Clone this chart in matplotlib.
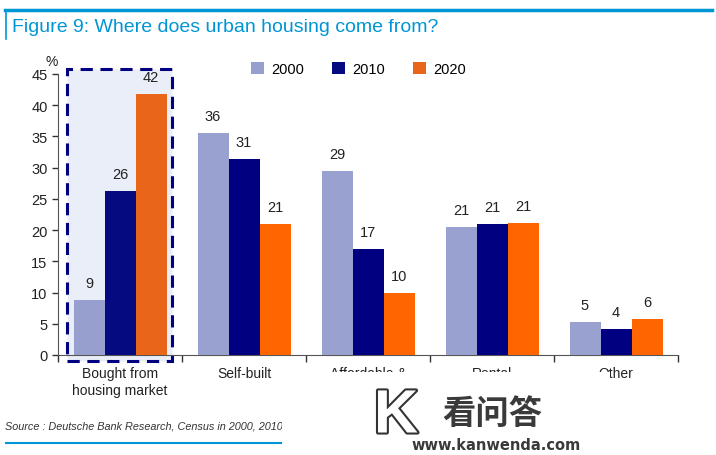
import matplotlib.pyplot as plt
import matplotlib.patheffects as pe
from matplotlib.patches import Rectangle
import numpy as np

plt.rcParams['font.family'] = ['Liberation Sans', 'DejaVu Sans']

# data
categories = ["Bought from\nhousing market", "Self-built", "Affordable &\npublic housing", "Rental", "Other"]
years = ["2000", "2010", "2020"]
v2000 = [8.8, 35.6, 29.4, 20.5, 5.3]
v2010 = [26.3, 31.4, 17.0, 21.0, 4.1]
v2020 = [41.8, 20.9, 9.9, 21.1, 5.8]
labels2000 = [9, 36, 29, 21, 5]
labels2010 = [26, 31, 17, 21, 4]
labels2020 = [42, 21, 10, 21, 6]

colors = ['#99A1D1', '#000080', '#FF6600']
colors_hl = ['#979FCF', '#050A80', '#E8651A']

W, H = 716, 456
fig = plt.figure(figsize=(W / 100, H / 100), dpi=100)

def fx(px):
    return px / W

def fy(py):
    return 1 - py / H

ax = fig.add_axes([fx(58), fy(356), fx(678) - fx(58), fy(75) - fy(356)])

idx = np.arange(len(categories))
bw = 0.25
series = [v2000, v2010, v2020]
lab = [labels2000, labels2010, labels2020]
for j, (vals, ls) in enumerate(zip(series, lab)):
    cols = [colors_hl[j] if i == 0 else colors[j] for i in range(len(vals))]
    x = idx + (j - 1) * bw
    ax.bar(x, vals, bw, color=cols, label=years[j], zorder=3)
    for xi, v, l in zip(x, vals, ls):
        ax.text(xi, v + 1.6, str(l), ha='center', va='bottom', fontsize=10.5, color='#222222', zorder=4)

# highlight box around first group
ax.add_patch(Rectangle((-0.427, -0.96), 0.846, 46.8, facecolor='#E9EEF8', edgecolor='#000080',
                       linestyle=(0, (4, 2.5)), linewidth=2.2, zorder=1, clip_on=False))

ax.set_xlim(-0.5, 4.5)
ax.set_ylim(0, 45)
ax.set_yticks(np.arange(0, 46, 5))
ax.tick_params(axis='y', labelsize=10.5, colors='#333333', length=4, direction='out', width=1)
ax.tick_params(axis='y', labelcolor='#222222')
ax.set_xticks(np.arange(-0.5, 4.6, 1))
ax.set_xticklabels([])
ax.tick_params(axis='x', length=5, direction='out', colors='#333333', width=1)
for i, c in enumerate(categories):
    ax.text(i, -1.7, c, ha='center', va='top', fontsize=10, color='#222222', linespacing=1.3)
for s in ['top', 'right']:
    ax.spines[s].set_visible(False)
for s in ['left', 'bottom']:
    ax.spines[s].set_color('#555555')
ax.text(-0.6, 46.0, '%', fontsize=10, color='#222222', ha='left', va='bottom')

ax.legend(loc='upper left', bbox_to_anchor=(0.29, 1.09), ncol=3, frameon=False, fontsize=10.5,
          handlelength=0.9, handleheight=0.9, columnspacing=1.9, handletextpad=0.5)

# title frame
fig.add_artist(plt.Line2D([fx(5), fx(712)], [fy(11), fy(11)], color='#0096D6', lw=2.5))
fig.add_artist(plt.Line2D([fx(5.5), fx(5.5)], [fy(11), fy(40)], color='#0096D6', lw=1.2))
fig.text(fx(12), fy(28), 'Figure 9: Where does urban housing come from?', fontsize=14,
         color='#0096D6', va='center', ha='left')

# source
fig.text(fx(5), fy(427), 'Source : Deutsche Bank Research, Census in 2000, 2010, 2020',
         fontsize=7.8, style='italic', color='#333333', va='center')
fig.add_artist(plt.Line2D([fx(6), fx(282)], [fy(444), fy(444)], color='#0096D6', lw=1.5))

# watermark
fig.add_artist(Rectangle((fx(282), 0), fx(330), fy(410), facecolor='white', edgecolor='none',
                         transform=fig.transFigure, zorder=10))
fig.add_artist(Rectangle((fx(300), 0), fx(310), fy(373), facecolor='white', edgecolor='none',
                         transform=fig.transFigure, zorder=10))
fig.text(fx(396), fy(418), 'K', fontsize=44, fontweight='bold', color='white', ha='center', va='center',
         path_effects=[pe.withStroke(linewidth=3, foreground='#333333')], zorder=11)
fig.text(fx(492), fy(414), '看问答', fontsize=24, fontweight='bold', color='#3a3a3a', ha='center',
         va='center', family=['Noto Sans CJK SC', 'DejaVu Sans'], zorder=11)
fig.text(fx(496), fy(446), 'www.kanwenda.com', fontsize=10.5, fontweight='bold', color='#3a3a3a',
         ha='center', va='center', family=['DejaVu Sans'], zorder=11)

fig.savefig('out.png', dpi=100)
